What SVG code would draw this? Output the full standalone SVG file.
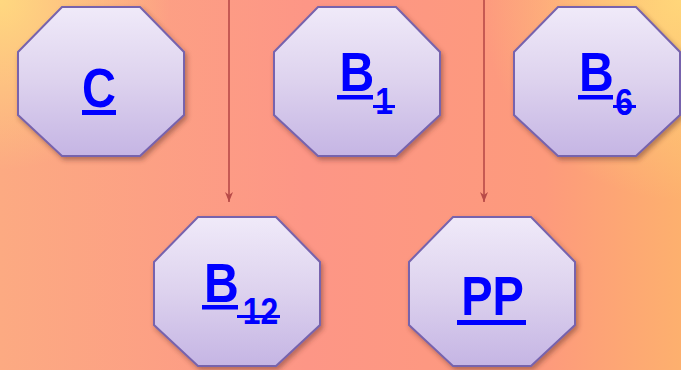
<svg xmlns="http://www.w3.org/2000/svg" width="681" height="370" viewBox="0 0 681 370">
<defs>
<linearGradient id="bgL" x1="0" y1="0" x2="1" y2="0">
<stop offset="0" stop-color="#fcaa82"/>
<stop offset="0.45" stop-color="#fd9686"/>
<stop offset="0.8" stop-color="#fd9a7c"/>
<stop offset="1" stop-color="#fdb06e"/>
</linearGradient>
<radialGradient id="cTL" cx="0" cy="0" r="170" gradientUnits="userSpaceOnUse">
<stop offset="0" stop-color="#ffd880" stop-opacity="1"/>
<stop offset="1" stop-color="#ffd880" stop-opacity="0"/>
</radialGradient>
<radialGradient id="cTR" cx="681" cy="0" r="200" gradientUnits="userSpaceOnUse">
<stop offset="0" stop-color="#ffd67a" stop-opacity="1"/>
<stop offset="1" stop-color="#ffd67a" stop-opacity="0"/>
</radialGradient>
<linearGradient id="oct" x1="0" y1="0" x2="0" y2="1">
<stop offset="0" stop-color="#f0eaf9"/>
<stop offset="0.5" stop-color="#ddd2ee"/>
<stop offset="1" stop-color="#c5b5e4"/>
</linearGradient>
<filter id="sh" x="-20%" y="-20%" width="140%" height="140%">
<feDropShadow dx="2" dy="3" stdDeviation="2.5" flood-color="#5a2a20" flood-opacity="0.45"/>
</filter>
<marker id="ah" markerWidth="12" markerHeight="12" refX="10" refY="6" orient="auto" markerUnits="userSpaceOnUse">
<path d="M0,2 L10,6 L0,10 L3,6 Z" fill="#b84a48"/>
</marker>
<polygon id="octShape" points="44,0 122,0 166,45 166,108 122,149 44,149 0,108 0,45"/>
</defs>
<style>
.node use{fill:url(#oct);stroke:#7763ad;stroke-width:2;filter:url(#sh)}
.lbl{font-family:"Liberation Sans",Arial,sans-serif;font-weight:bold;fill:#0000ff;text-anchor:middle}
.big{font-size:56px}
.sub{font-size:37px}
.ul{fill:#0000ff}
.conn line{stroke:#b84a48;stroke-width:1.6;fill:none}
</style>
<rect width="681" height="370" fill="url(#bgL)"/>
<rect width="681" height="370" fill="url(#cTL)"/>
<rect width="681" height="370" fill="url(#cTR)"/>

<g id="connectors" class="conn">
<line x1="229" y1="0" x2="229" y2="202" marker-end="url(#ah)"/>
<line x1="484" y1="0" x2="484" y2="202" marker-end="url(#ah)"/>
</g>

<g id="node-C" class="node">
<use href="#octShape" x="18" y="7"/>
<text class="lbl big" transform="translate(99 107) scale(0.84 1)">C</text>
<rect class="ul" x="82" y="110" width="34" height="5"/>
</g>

<g id="node-B1" class="node">
<use href="#octShape" x="274" y="7"/>
<text class="lbl big" transform="translate(357 91) scale(0.86 1)">B</text>
<text class="lbl sub" transform="translate(384 114) scale(0.86 1)">1</text>
<rect class="ul" x="337" y="95" width="36" height="4.5"/>
<rect class="ul" x="373" y="105" width="22" height="3"/>
</g>

<g id="node-B6" class="node">
<use href="#octShape" x="514" y="7"/>
<text class="lbl big" transform="translate(596.5 91) scale(0.86 1)">B</text>
<text class="lbl sub" transform="translate(624 115) scale(0.86 1)">6</text>
<rect class="ul" x="578" y="95" width="35" height="4.5"/>
<rect class="ul" x="613" y="105" width="23" height="3"/>
</g>

<g id="node-B12" class="node">
<use href="#octShape" x="154" y="217"/>
<text class="lbl big" transform="translate(221.5 302) scale(0.86 1)">B</text>
<text class="lbl sub" transform="translate(260.5 324) scale(0.86 1)">12</text>
<rect class="ul" x="202" y="305" width="36" height="4.5"/>
<rect class="ul" x="237" y="315" width="43" height="3"/>
</g>

<g id="node-PP" class="node">
<use href="#octShape" x="409" y="217"/>
<text class="lbl big" transform="translate(492.5 315) scale(0.84 1)">PP</text>
<rect class="ul" x="457" y="320" width="69" height="5"/>
</g>
</svg>
